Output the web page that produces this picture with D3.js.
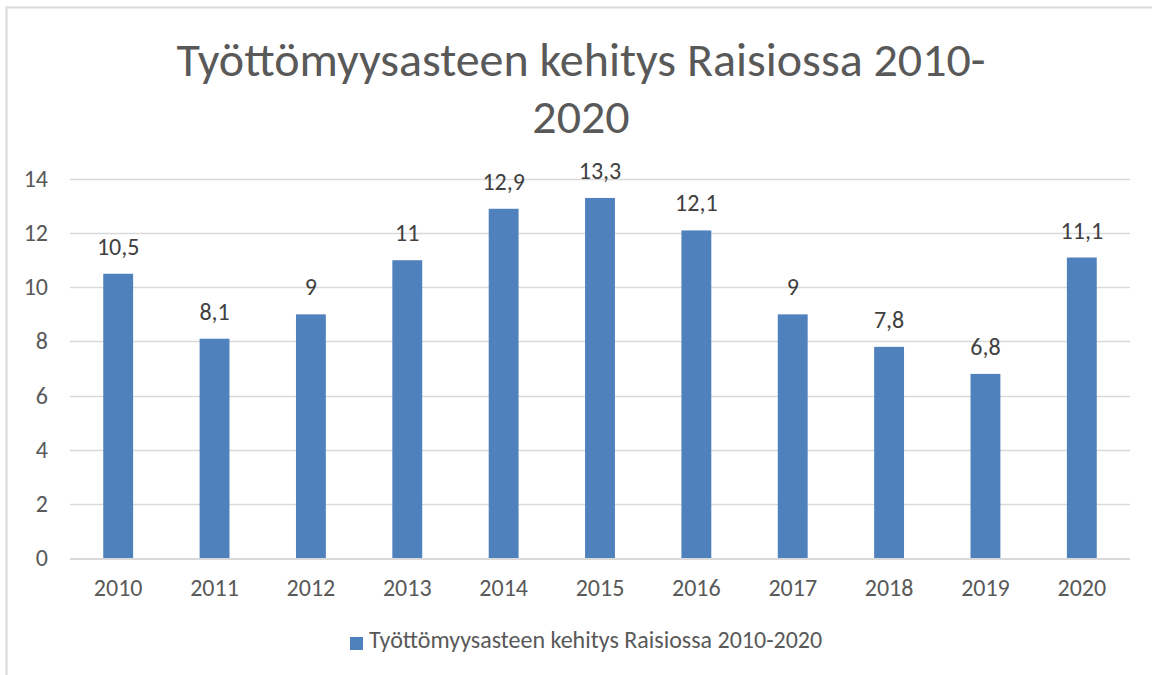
<!DOCTYPE html>
<html>
<head>
<meta charset="utf-8">
<script src="https://cdn.jsdelivr.net/npm/d3@7"></script>
<style>
  body { margin: 0; background: #fff; }
  svg { display: block; font-family: Carlito, Calibri, Lato, sans-serif; }
</style>
</head>
<body>
<svg id="chart" width="1152" height="675"></svg>
<script>
const years = ['2010', '2011', '2012', '2013', '2014', '2015', '2016', '2017', '2018', '2019', '2020'];
const values = [10.5, 8.1, 9, 11, 12.9, 13.3, 12.1, 9, 7.8, 6.8, 11.1];
const yTicks = [0, 2, 4, 6, 8, 10, 12, 14];
const titleLines = ['Työttömyysasteen kehitys Raisiossa 2010-', '2020'];
const seriesName = 'Työttömyysasteen kehitys Raisiossa 2010-2020';

const svg = d3.select('#chart');

const PLOT_LEFT = 70;
const PLOT_RIGHT = 1130;
const PLOT_TOP = 179;
const PLOT_BOTTOM = 558;
const BAR_COLOR = '#4f81bd';
const GRID_COLOR = '#d9d9d9';
const TEXT_COLOR = '#595959';
const FONT_SIZE = 24;

// chart frame (cut at right/bottom in the screenshot)
svg.append('path')
    .attr('d', 'M6.5,675 V7.5 H1152')
    .attr('fill', 'none')
    .attr('stroke', GRID_COLOR)
    .attr('stroke-width', 2);

const x = d3.scaleBand()
    .domain(years)
    .range([PLOT_LEFT, PLOT_RIGHT])
    .paddingInner(0.69)
    .paddingOuter(0.345);

const y = d3.scaleLinear()
    .domain([0, 14])
    .range([PLOT_BOTTOM, PLOT_TOP]);

// gridlines
svg.append('g')
    .selectAll('line')
    .data(yTicks.filter(d => d > 0))
    .join('line')
    .attr('x1', PLOT_LEFT)
    .attr('x2', PLOT_RIGHT)
    .attr('y1', d => Math.round(y(d)) + 0.5)
    .attr('y2', d => Math.round(y(d)) + 0.5)
    .attr('stroke', GRID_COLOR)
    .attr('stroke-width', 1.5);

// y tick labels
svg.append('g')
    .selectAll('text')
    .data(yTicks)
    .join('text')
    .text(d => d)
    .attr('x', 48)
    .attr('y', d => y(d) + 8)
    .attr('text-anchor', 'end')
    .attr('font-size', FONT_SIZE)
    .attr('fill', TEXT_COLOR);

// bars
svg.append('g')
    .selectAll('rect')
    .data(values)
    .join('rect')
    .attr('x', (d, i) => x(years[i]))
    .attr('y', d => y(d))
    .attr('width', x.bandwidth())
    .attr('height', d => PLOT_BOTTOM - y(d))
    .attr('fill', BAR_COLOR);

// x axis line
svg.append('line')
    .attr('x1', PLOT_LEFT)
    .attr('x2', PLOT_RIGHT)
    .attr('y1', PLOT_BOTTOM + 1)
    .attr('y2', PLOT_BOTTOM + 1)
    .attr('stroke', GRID_COLOR)
    .attr('stroke-width', 2);

// x tick labels
svg.append('g')
    .selectAll('text')
    .data(years)
    .join('text')
    .text(d => d)
    .attr('x', d => x(d) + x.bandwidth() / 2)
    .attr('y', 596)
    .attr('text-anchor', 'middle')
    .attr('font-size', FONT_SIZE)
    .attr('fill', TEXT_COLOR);

// data labels
svg.append('g')
    .selectAll('text')
    .data(values)
    .join('text')
    .text(d => String(d).replace('.', ','))
    .attr('x', (d, i) => x(years[i]) + x.bandwidth() / 2)
    .attr('y', d => y(d) - 19)
    .attr('text-anchor', 'middle')
    .attr('font-size', FONT_SIZE)
    .attr('fill', '#404040');

// title
svg.append('g')
    .selectAll('text')
    .data(titleLines)
    .join('text')
    .text(d => d)
    .attr('x', 581)
    .attr('y', (d, i) => 76 + i * 57)
    .attr('text-anchor', 'middle')
    .attr('font-size', 48)
    .attr('fill', TEXT_COLOR);

// legend
svg.append('rect')
    .attr('x', 350)
    .attr('y', 637)
    .attr('width', 13)
    .attr('height', 13)
    .attr('fill', BAR_COLOR);

svg.append('text')
    .text(seriesName)
    .attr('x', 369)
    .attr('y', 648)
    .attr('font-size', FONT_SIZE)
    .attr('fill', TEXT_COLOR);
</script>
</body>
</html>
